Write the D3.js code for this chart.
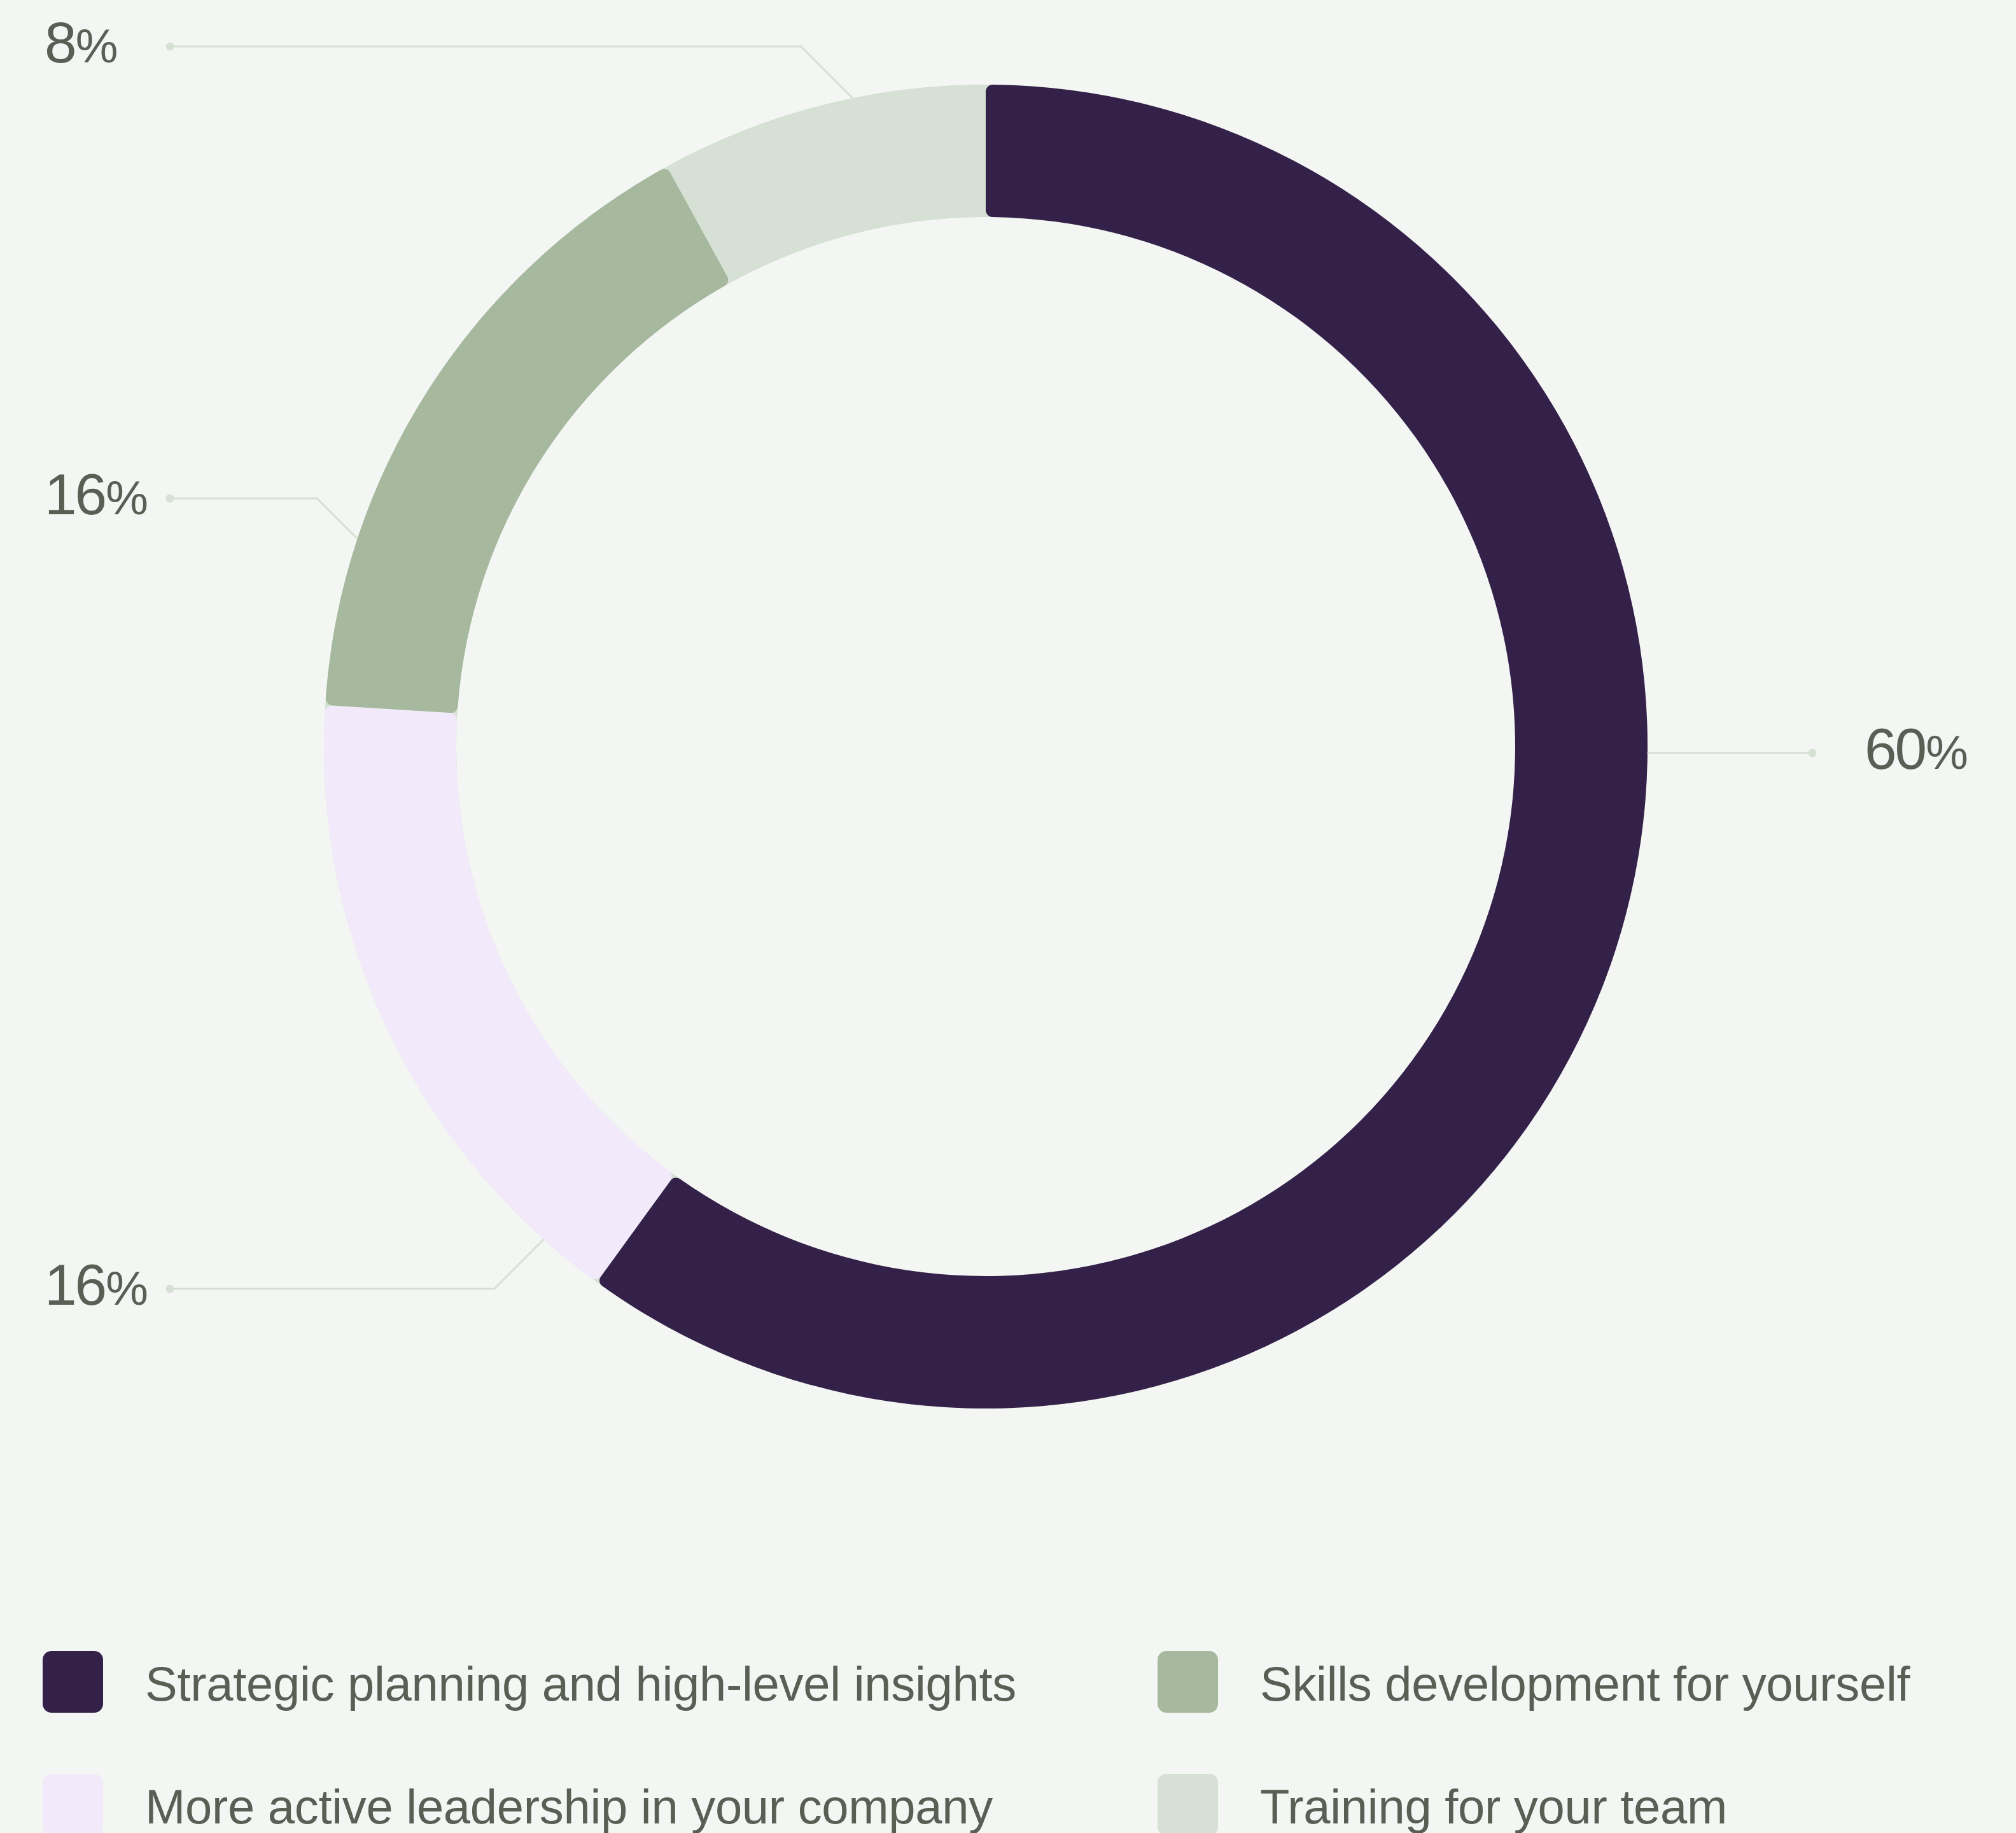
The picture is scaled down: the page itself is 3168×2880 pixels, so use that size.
<!DOCTYPE html>
<html>
<head>
<meta charset="utf-8">
<script src="https://cdn.jsdelivr.net/npm/d3@7"></script>
<style>
  html, body { margin: 0; padding: 0; background: #F4F6F3; }
  svg { display: block; }
</style>
</head>
<body>
<svg id="chart" width="3168" height="2880"></svg>
<script>
// Survey answers
const categories = [
  "Strategic planning and high-level insights",
  "More active leadership in your company",
  "Skills development for yourself",
  "Training for your team"
];
const values = [60, 16, 16, 8];
const valueLabels = ["60%", "16%", "16%", "8%"];

// Styling
const colors = ["#34214A", "#F2EAFB", "#A6B99F", "#D6E0D5"];
const bg = "#F4F6F3";
const textColor = "#5A5E55";
const leaderColor = "#D6E0D5";

// Leader line layout: angle on the ring (degrees, clockwise from top) and label row y
const leaderAngles = [90.5, 221.9, 288.3, 348.4];
const labelRows = [1183, 2025, 783, 73];

const W = 3168, H = 2880;
const cx = 1549, cy = 1173;
const outerR = 1040, innerR = 832;

const svg = d3.select("#chart");
svg.append("rect").attr("width", W).attr("height", H).attr("fill", bg);

const g = svg.append("g").attr("transform", `translate(${cx},${cy})`);

// base ring that shows through the rounded corners
g.append("path")
  .attr("d", d3.arc().innerRadius(innerR).outerRadius(outerR)({startAngle: 0, endAngle: 2 * Math.PI}))
  .attr("fill", colors[3]);

const pie = d3.pie().sort(null).value(d => d)(values);
const arc = d3.arc().innerRadius(innerR).outerRadius(outerR).cornerRadius(11);

g.selectAll("path.slice")
  .data(pie)
  .join("path")
  .attr("class", "slice")
  .attr("d", arc)
  .attr("fill", (d, i) => colors[i]);

// Leader lines and value labels
const leftDotX = 267, rightDotX = 2848;
const leftTextX = 70, rightTextX = 2930;
const lines = svg.append("g");
values.forEach((v, i) => {
  const a = leaderAngles[i] * Math.PI / 180;
  const ax = cx + outerR * Math.sin(a);
  const ay = cy - outerR * Math.cos(a);
  const right = leaderAngles[i] < 180;
  const ly = labelRows[i];
  const dy = Math.abs(ly - ay);
  const ex = ax + (right ? dy : -dy);
  const dotX = right ? rightDotX : leftDotX;
  lines.append("path")
    .attr("d", d3.line()([[ax, ay], [ex, ly], [dotX, ly]]))
    .attr("fill", "none")
    .attr("stroke", leaderColor)
    .attr("stroke-width", 3);
  lines.append("circle")
    .attr("cx", dotX).attr("cy", ly).attr("r", 6.5)
    .attr("fill", leaderColor);
  const num = valueLabels[i].replace("%", "");
  const t = lines.append("text")
    .attr("x", right ? rightTextX : leftTextX)
    .attr("y", ly + 25)
    .attr("font-family", "'Liberation Sans', Arial, sans-serif")
    .attr("font-size", 91)
    .attr("letter-spacing", -3)
    .attr("fill", textColor);
  t.append("tspan").text(num);
  t.append("tspan").attr("font-size", 75).attr("dx", 1).text("%");
});

// Legend: two columns, filled column by column
const legendX = [67, 1819];
const legendY = [2594, 2787];
const legend = svg.append("g");
categories.forEach((c, i) => {
  const col = Math.floor(i / 2), row = i % 2;
  const x = legendX[col], y = legendY[row];
  legend.append("rect")
    .attr("x", x).attr("y", y)
    .attr("width", 95).attr("height", 97)
    .attr("rx", 14).attr("ry", 14)
    .attr("fill", colors[i]);
  legend.append("text")
    .attr("x", x + 161).attr("y", y + 78)
    .attr("font-family", "'Liberation Sans', Arial, sans-serif")
    .attr("font-size", 76)
    .attr("letter-spacing", -0.3)
    .attr("fill", textColor)
    .text(c);
});
</script>
</body>
</html>
